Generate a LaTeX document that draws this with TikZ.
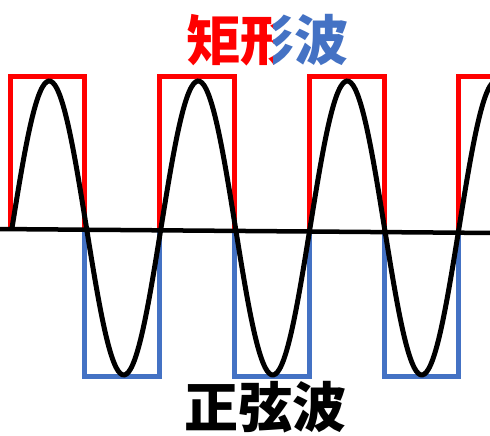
\documentclass[tikz,border=0pt]{standalone}
\usepackage{fontspec}
\newfontfamily\cjk{Noto Sans CJK JP}
\usepackage{tikz}
\usetikzlibrary{positioning}
\definecolor{wavered}{HTML}{FF0000}
\definecolor{waveblue}{HTML}{4472C4}
\definecolor{waveink}{HTML}{000000}
\begin{document}
\begin{tikzpicture}[x=1pt,y=1pt,line join=miter,
  sq/.style={line width=5pt},
  hi/.style={sq,draw=wavered},
  lo/.style={sq,draw=waveblue},
  axisline/.style={line width=4.5pt,draw=waveink},
  sine/.style={line width=5pt,draw=waveink,line cap=round},
  lab/.style={font=\cjk\bfseries\fontsize{54}{54}\selectfont,inner sep=0pt}]
\path[use as bounding box] (0,0) rectangle (490,436);
\fill[white] (0,0) rectangle (490,436);
\begin{scope}
\clip (0,0) rectangle (490,436);
% square wave: red above the axis, blue below
\foreach \k in {0,2,4,6} {
  \pgfmathsetmacro{\xa}{10+74.8*\k}
  \pgfmathsetmacro{\xb}{10+74.8*(\k+1)}
  \draw[hi] (\xa,205) -- (\xa,359) -- (\xb,359) -- (\xb,205);
}
\foreach \k in {1,3,5} {
  \pgfmathsetmacro{\xa}{10+74.8*\k}
  \pgfmathsetmacro{\xb}{10+74.8*(\k+1)}
  \draw[lo] (\xa,205) -- (\xa,59) -- (\xb,59) -- (\xb,205);
}
\draw[axisline] (-5,207) -- (495,203);
\draw[sine] plot[domain=12:500,samples=240,smooth] (\x,{208+147*sin((\x-12)/149*360)});
\end{scope}
% title: red up to the middle of the second glyph, blue after it
\path (267,396) node[lab,text opacity=0] (title) {矩形波};
\begin{scope}
\clip (120,360) rectangle (273,436);
\node[lab,text=wavered] (titlered) at (title) {矩形波};
\end{scope}
\begin{scope}
\clip (273,360) rectangle (400,436);
\node[lab,text=waveblue] (titleblue) at (title) {矩形波};
\end{scope}
\node[lab,text=waveink,text depth=0pt,anchor=base] (sinename) at (265,8) {正弦波};
\end{tikzpicture}
\end{document}
